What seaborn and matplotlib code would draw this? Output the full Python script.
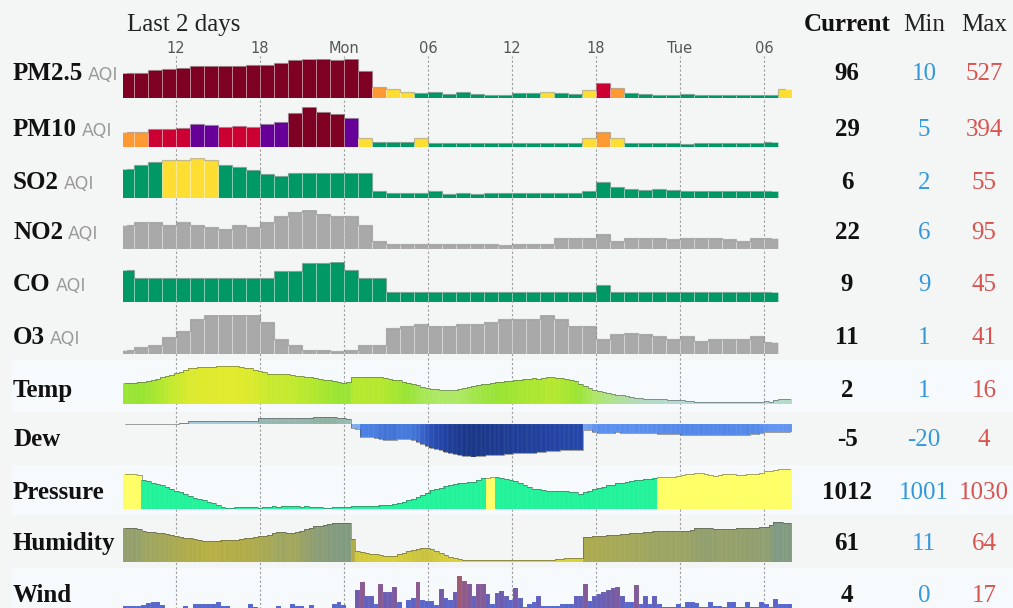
import numpy as np
import pandas as pd
import matplotlib
matplotlib.use("Agg")
import matplotlib.pyplot as plt
from matplotlib.colors import LinearSegmentedColormap, Normalize, to_hex
from matplotlib.patches import Rectangle
import seaborn as sns


# ==============================================================================
# DATA  (hourly AQI, 20-minute weather readings)
# ==============================================================================

tick_hours  = [12, 18, 24, 30, 36, 42, 48, 54]
tick_labels = ["12", "18", "Mon", "06", "12", "18", "Tue", "06"]

pm25 = [317, 327, 365, 384, 398, 422, 422, 422, 422, 441,
        441, 470, 503, 527, 517, 508, 517, 350, 126, 95,
        60, 40, 48, 26, 48, 26, 15, 15, 45, 45,
        55, 45, 20, 88, 175, 112, 45, 26, 15, 15,
        18, 12, 12, 10, 12, 12, 12, 96]
pm10 = [129, 129, 160, 168, 178, 215, 210, 189, 195, 189,
        212, 242, 331, 394, 341, 320, 285, 72, 22, 22,
        22, 65, 13, 13, 13, 12, 13, 13, 12, 13,
        12, 12, 13, 65, 128, 65, 19, 13, 13, 12,
        5, 12, 13, 12, 13, 12, 29]
so2 = [39, 45, 49, 52, 52, 55, 52, 45, 42, 37,
       32, 28, 33, 33, 33, 33, 33, 33, 6, 3,
       3, 3, 7, 2, 3, 2, 3, 3, 3, 4,
       3, 3, 4, 7, 20, 12, 9, 8, 9, 8,
       7, 6, 6, 6, 6, 6, 6]
no2 = [56, 64, 64, 56, 64, 56, 50, 45, 56, 50,
       64, 78, 89, 95, 85, 78, 78, 56, 16, 9,
       9, 9, 9, 9, 9, 9, 9, 6, 9, 9,
       9, 22, 22, 22, 33, 16, 22, 22, 22, 20,
       22, 22, 22, 20, 16, 22, 22]
co = [35, 26, 26, 26, 26, 26, 26, 26, 26, 26,
      26, 34, 34, 44, 44, 45, 35, 26, 26, 9,
      9, 9, 9, 9, 9, 9, 9, 9, 9, 9,
      9, 9, 9, 9, 18, 9, 9, 9, 9, 9,
      9, 9, 9, 9, 9, 9, 9]
o3 = [2, 5, 7, 16, 23, 36, 41, 41, 41, 41,
      33, 14, 7, 2, 2, 1, 2, 7, 7, 26,
      28, 31, 28, 28, 31, 31, 33, 36, 36, 36,
      41, 36, 28, 28, 14, 20, 21, 20, 17, 14,
      17, 12, 14, 14, 14, 17, 11]

temp = [8.8, 9.0, 9.0, 9.2, 9.4, 9.8, 10.2, 10.6, 11.2, 11.8,
        12.4, 13.0, 13.6, 14.2, 15.0, 15.2, 15.4, 15.5, 15.5, 15.6,
        15.8, 15.8, 16.0, 16.0, 15.8, 15.4, 15.2, 15.0, 14.5, 14.0,
        13.4, 12.8, 12.6, 12.8, 12.8, 12.6, 12.4, 12.0, 11.6, 11.5,
        11.2, 11.0, 10.6, 10.2, 10.0, 9.6, 9.2, 8.8, 9.4, 11.2,
        11.4, 11.4, 11.4, 11.4, 11.4, 11.2, 11.0, 10.6, 10.3, 10.0,
        9.4, 8.8, 8.3, 7.8, 7.2, 6.9, 6.5, 6.2, 6.0, 5.9,
        5.9, 6.0, 6.2, 6.6, 7.0, 7.6, 8.0, 8.4, 8.6, 8.8,
        9.2, 9.4, 9.6, 9.8, 10.0, 10.2, 10.4, 10.6, 10.8, 10.6,
        11.0, 11.2, 11.2, 11.0, 10.8, 10.4, 10.0, 9.6, 8.6, 7.6,
        6.8, 6.0, 5.5, 5.0, 4.6, 4.2, 3.9, 3.6, 3.2, 2.9,
        2.7, 2.5, 2.3, 2.2, 2.0, 2.0, 1.9, 1.8, 1.7, 1.6,
        1.5, 1.4, 1.2, 1.0, 1.0, 1.0, 1.0, 1.0, 1.0, 1.0,
        1.0, 1.0, 1.0, 1.0, 1.0, 1.0, 1.0, 1.0, 1.2, 1.0,
        1.6, 2.0, 2.0, 2.0]
dew = [0.2, 0.2, 0.2, 0.2, 0.2, 0.2, 0.2, 0.2, 0.2, 0.2,
       0.2, 0.2, 0.3, 0.3, 1.5, 1.8, 1.8, 1.8, 1.8, 1.8,
       1.8, 1.8, 1.8, 1.8, 1.8, 1.8, 1.8, 1.8, 1.8, 3.5,
       3.5, 3.5, 3.5, 3.5, 3.5, 3.5, 3.5, 3.5, 3.6, 3.6,
       3.8, 4.0, 4.0, 4.0, 4.0, 4.0, 3.5, 3.5, 3.2, -2.7,
       -3.0, -8.0, -8.0, -8.2, -8.5, -9.5, -10.0, -10.0, -10.0, -9.0,
       -9.0, -9.2, -10.0, -11.0, -12.5, -13.5, -14.5, -15.5, -16.0, -17.0,
       -18.0, -18.5, -19.0, -19.5, -19.8, -20.0, -19.8, -19.5, -19.2, -19.0,
       -19.0, -18.8, -18.5, -18.2, -18.0, -18.0, -17.8, -17.6, -17.5, -17.2,
       -17.0, -16.8, -16.5, -16.3, -16.2, -16.0, -16.0, -16.0, -16.0, -3.7,
       -4.0, -4.8, -5.3, -5.3, -5.4, -5.3, -5.2, -5.5, -5.4, -5.3,
       -5.6, -5.5, -5.4, -5.7, -5.8, -6.0, -6.2, -6.0, -6.2, -6.4,
       -6.5, -6.7, -6.6, -6.5, -6.7, -6.8, -6.6, -6.5, -6.7, -6.8,
       -6.7, -6.6, -6.5, -6.5, -6.6, -6.4, -6.0, -5.5, -5.0, -4.8,
       -4.7, -4.7, -4.8, -4.8]
pressure = [1026.0, 1025.7, 1025.5, 1025.0, 1021.0, 1020.5, 1019.5, 1018.5, 1017.5, 1016.5,
            1015.0, 1013.5, 1012.5, 1011.0, 1009.5, 1008.5, 1007.5, 1006.5, 1005.5, 1004.5,
            1003.5, 1002.0, 1001.3, 1001.3, 1001.5, 1001.7, 1001.5, 1001.8, 1002.0, 1001.0,
            1001.7, 1002.0, 1002.2, 1002.0, 1002.4, 1002.2, 1002.5, 1002.3, 1002.0, 1002.2,
            1001.8, 1002.0, 1001.5, 1001.2, 1001.0, 1001.5, 1001.8, 1002.0, 1002.0, 1002.2,
            1002.5, 1002.3, 1002.5, 1002.8, 1002.6, 1003.0, 1003.2, 1003.5, 1004.0, 1004.6,
            1005.5, 1006.5, 1007.5, 1009.0, 1010.5, 1012.0, 1014.0, 1015.0, 1015.5, 1017.0,
            1018.0, 1018.5, 1019.0, 1019.5, 1019.8, 1020.0, 1021.0, 1022.5, 1023.0, 1023.5,
            1023.2, 1022.5, 1022.0, 1021.5, 1020.5, 1019.0, 1017.5, 1016.0, 1015.0, 1014.5,
            1014.0, 1013.5, 1013.3, 1013.3, 1013.0, 1013.0, 1012.8, 1012.5, 1011.2, 1012.5,
            1013.5, 1014.5, 1015.5, 1016.5, 1017.5, 1018.0, 1019.0, 1019.5, 1020.0, 1020.5,
            1021.0, 1021.5, 1022.0, 1022.3, 1022.8, 1023.2, 1023.5, 1023.5, 1023.8, 1024.5,
            1025.0, 1025.5, 1026.0, 1026.4, 1026.4, 1025.5, 1025.0, 1024.5, 1025.0, 1025.5,
            1025.8, 1025.5, 1025.0, 1025.0, 1025.5, 1026.0, 1026.0, 1026.5, 1027.5, 1028.0,
            1028.5, 1029.3, 1029.3, 1029.3]
# pressure band flag as runs of (flag, bar count)
pressure_runs = [("hi", 4), ("lo", 74), ("hi", 2), ("lo", 35), ("hi", 29)]
humidity = [56, 55, 55, 54, 51, 50, 49.5, 49, 48, 47,
            45.5, 44, 43, 42, 41, 40, 39, 38, 37.5, 37.5,
            38, 38.5, 38.5, 39, 39.5, 40, 41, 42, 43, 44,
            45, 46, 48, 50, 50.5, 49, 48.5, 50, 52, 54,
            56, 58, 59, 60, 61, 62, 62.5, 63, 62, 40,
            24, 22, 20, 19.5, 19, 18.5, 17, 16, 17, 19,
            21, 23.5, 25.5, 26.5, 27.5, 27.5, 26, 23.5, 20.5, 18,
            15, 13, 12, 11, 11, 11.5, 11, 11, 11, 11,
            11.5, 11, 11, 11, 11, 11, 11, 11, 11, 11,
            11, 11, 11.5, 12, 12.5, 13, 13.5, 14, 14, 43,
            43.5, 44, 44.5, 45, 45.5, 46, 46.5, 47, 47.5, 48,
            48.5, 49, 50, 50.5, 51, 51, 51, 51, 51, 51,
            51.5, 52, 53.5, 55, 55.5, 55.5, 55.5, 54.5, 54, 54,
            54, 54.5, 55, 55, 55.5, 56, 56, 56.5, 57, 60,
            64, 63.5, 62.5, 62.5]
wind = [3, 3, 3, 3, 3.5, 4.7, 5.1, 5.1, 3.6, 2.4,
        2.4, 2.4, 2.4, 3.3, 2.4, 4.1, 4.1, 4.1, 4.1, 4.1,
        4.8, 3.3, 3.3, 2.4, 2.4, 2.4, 2.4, 4, 2.9, 2.4,
        2.4, 2.4, 2.4, 3.3, 2.4, 2.4, 4, 3.2, 3.2, 2.4,
        3.6, 2.4, 2.4, 2.4, 2.4, 4, 5.1, 3.6, 2.4, 2.4,
        10.5, 13.9, 7.9, 7.6, 4, 13.3, 9.7, 9.7, 12, 4.8,
        2.4, 5.9, 6.9, 13.9, 5.9, 5.5, 5.5, 3.6, 10.9, 6.7,
        5.9, 9.7, 17, 14.5, 13, 7.9, 13, 13, 8.5, 4,
        8.9, 10, 7.6, 5.9, 11.2, 6.9, 2.9, 4, 4.8, 7.9,
        3, 3, 3, 3.3, 4, 4, 4, 7.6, 7.9, 13,
        5.5, 7.9, 8.5, 9.4, 10.5, 11.2, 12, 7.9, 5.1, 5.1,
        12.7, 4, 7.9, 4, 7.9, 4, 2.7, 2.7, 2.7, 4,
        2.9, 4.8, 5.1, 4.4, 2.9, 2.9, 5.1, 3.3, 3.3, 2.9,
        5.1, 5.1, 2.9, 2.9, 4.8, 2.9, 2.9, 4.8, 4, 2.9,
        6.4, 4, 4, 4]

row_names  = ["PM2.5", "PM10", "SO2", "NO2", "CO", "O3",
              "Temp", "Dew", "Pressure", "Humidity", "Wind"]
row_units  = ["AQI", "AQI", "AQI", "AQI", "AQI", "AQI", "", "", "", "", ""]
current_vals = ["96", "29", "6", "22", "9", "11", "2", "-5", "1012", "61", "4"]
min_vals     = ["10", "5", "2", "6", "9", "1", "1", "-20", "1001", "11", "0"]
max_vals     = ["527", "394", "55", "95", "45", "41", "16", "4", "1030", "64", "17"]


# ==============================================================================
# STYLE / LAYOUT
# ==============================================================================

sns.set_theme(style="white")
plt.rcParams["font.family"] = ["Liberation Serif", "DejaVu Serif"]

W, H = 1013, 608
BG, BAND = "#f4f6f6", "#f6fafd"
X0, X1 = 8.2, 56.0            # hours since Sunday 00:00
PLOT_L, PLOT_R = 123, 792     # pixel extent of the sparkline column

AQI_LEVELS = [(50, "#009966"), (100, "#ffde33"), (150, "#ff9933"),
              (200, "#cc0033"), (300, "#660099"), (1e9, "#7e0023")]
GREY_BAR = "#a9a9a9"

cm_temp = LinearSegmentedColormap.from_list(
    "temp", [(0.0, "#b4d8e4"), (0.13, "#b2dcb0"), (0.33, "#aee866"),
             (0.55, "#98e432"), (0.75, "#c2ea2e"), (1.0, "#e4ea2c")])
cm_dew = LinearSegmentedColormap.from_list(
    "dew", [(0.0, "#1a3788"), (0.17, "#2446a8"), (0.33, "#3a66cc"),
            (0.5, "#4b80e2"), (0.62, "#5b90ef"), (0.71, "#7eaaf0"),
            (0.83, "#9cc4ec"), (0.92, "#a6c8d8"), (1.0, "#8fb2a2")])
cm_hum = LinearSegmentedColormap.from_list(
    "hum", [(0.0, "#dcd43a"), (0.26, "#cfc83c"), (0.53, "#b3ad46"),
            (0.7, "#a3a85a"), (0.83, "#93a06c"), (1.0, "#7f9a84")])
cm_wind = LinearSegmentedColormap.from_list(
    "wind", [(0.0, "#4d6ad8"), (0.35, "#5a66c8"), (0.6, "#6f5cae"),
             (0.82, "#8a5a90"), (1.0, "#a05a70")])
PRESSURE_COLORS = {"hi": "#ffff66", "lo": "#22f29a"}


def aqi_color(v):
    for lim, col in AQI_LEVELS:
        if v <= lim:
            return col


def map_colors(vals, cmap, lo, hi):
    norm = Normalize(lo, hi)
    return [to_hex(cmap(norm(v))) for v in vals]


fig = plt.figure(figsize=(W / 100, H / 100), dpi=100, facecolor=BG)


def px_axes(y_top, y_bot, x0=PLOT_L, x1=PLOT_R, z=1):
    ax = fig.add_axes([x0 / W, 1 - y_bot / H, (x1 - x0) / W, (y_bot - y_top) / H],
                      zorder=z)
    ax.patch.set_alpha(0)
    ax.set_axis_off()
    return ax


def draw_row(ax, xs, vals, colors, ylim, floor=0.0, bar_w=1.0, sep_lw=0.8,
             sep_alpha=0.35, cap_color="black", cap_alpha=0.3, cap_lw=0.9):
    vals = np.asarray(vals, dtype=float)
    df = pd.DataFrame({"t": xs, "h": vals + floor, "c": colors})
    sns.barplot(data=df, x="t", y="h", hue="c",
                palette={c: c for c in set(colors)}, native_scale=True,
                dodge=False, width=bar_w, errorbar=None, legend=False,
                saturation=1, linewidth=sep_lw,
                edgecolor=(1, 1, 1, sep_alpha), bottom=-floor, ax=ax)
    if cap_color is not None:
        sns.lineplot(x=xs, y=vals, drawstyle="steps-mid", color=cap_color,
                     alpha=cap_alpha, lw=cap_lw, errorbar=None, ax=ax)
    ax.set_xlim(X0, X1)
    ax.set_ylim(*ylim)
    ax.set_axis_off()


# ── Background bands & grid ──────────────────────────────────────────────────
bg = fig.add_axes([0, 0, 1, 1], zorder=-2)
bg.set_xlim(0, W)
bg.set_ylim(H, 0)
bg.set_axis_off()
bg.patch.set_alpha(0)
for y_top, y_bot in [(360, 412), (465, 515), (568, 620)]:
    bg.add_patch(Rectangle((12, y_top), W, y_bot - y_top, color=BAND, lw=0))

grid = px_axes(56, 620, z=0)
grid.set_xlim(X0, X1)
grid.set_ylim(0, 1)
for h, lbl in zip(tick_hours, tick_labels):
    grid.axvline(h, color="#9c9c9c", lw=0.8, ls=(0, (2, 2)))
    grid.annotate(lbl, xy=(h, 1), xycoords=("data", "axes fraction"),
                  xytext=(0, 3), textcoords="offset pixels", ha="center",
                  va="baseline", fontsize=10.5, color="#555555",
                  family="DejaVu Sans")

# ── AQI rows (hourly bars) ───────────────────────────────────────────────────
aqi_rows = [
    (pm25, "aqi", 98.0),
    (pm10, "aqi", 146.7),
    (so2, "aqi", 197.7),
    (no2, "grey", 249.3),
    (co, "aqi", 301.7),
    (o3, "grey", 354.0),
]
for vals, scheme, base in aqi_rows:
    ax = px_axes(base - 39.5, base)
    xs = X0 + 0.3 + np.arange(len(vals))
    cols = [aqi_color(v) if scheme == "aqi" else GREY_BAR for v in vals]
    vmax = max(vals)
    draw_row(ax, xs, vals, cols, (-0.06 * vmax, vmax), floor=0.06 * vmax,
             sep_lw=0.7, sep_alpha=0.3, cap_alpha=0.22)

# ── Weather rows (20-minute bars) ────────────────────────────────────────────
step = (X1 - X0) / len(temp)
wx = X0 + (np.arange(len(temp)) + 0.5) * step

pressure_cols = []
for flag, n in pressure_runs:
    pressure_cols += [PRESSURE_COLORS[flag]] * n

weather_rows = [
    (temp, map_colors(temp, cm_temp, 1, 16), 366, 404, (0, 16)),
    (dew, map_colors(dew, cm_dew, -20, 4), 417.3, 456.7, (-20, 4)),
    (pressure, pressure_cols, 469, 509, (1000.3, 1029.3)),
    (humidity, map_colors(humidity, cm_hum, 11, 64), 522, 562, (8, 64)),
    (wind, map_colors(wind, cm_wind, 0, 17), 575.6, 613, (0, 17)),
]
for i, (vals, cols, y_top, y_bot, lim) in enumerate(weather_rows):
    ax = px_axes(y_top, y_bot)
    is_wind = i == len(weather_rows) - 1
    draw_row(ax, wx, vals, cols, lim, bar_w=1.06, sep_lw=0.25, sep_alpha=0.15,
             cap_color=None if is_wind else "#444444", cap_alpha=0.5, cap_lw=0.7)

# ── Text: header, labels, current / min / max ────────────────────────────────
tx = fig.add_axes([0, 0, 1, 1], zorder=5)
tx.set_xlim(0, W)
tx.set_ylim(H, 0)
tx.set_axis_off()
tx.patch.set_alpha(0)

tx.text(127, 31, "Last 2 days", fontsize=18, color="#222222", va="baseline")
tx.text(847, 31, "Current", fontsize=18, fontweight="bold", color="#111111",
        ha="center", va="baseline")
tx.text(924, 31, "Min", fontsize=18, color="#222222", ha="center", va="baseline")
tx.text(984, 31, "Max", fontsize=18, color="#222222", ha="center", va="baseline")

baselines = [80, 136, 189, 239, 291, 344, 397, 446, 499, 550, 602]
for name, unit, cur, lo, hi, yb in zip(row_names, row_units, current_vals,
                                       min_vals, max_vals, baselines):
    lab = tx.text(13, yb, name, fontsize=18, fontweight="bold", color="#111111",
                  va="baseline")
    if unit:
        tx.annotate(unit, xy=(1, yb), xycoords=(lab, "data"), xytext=(5, 0),
                    textcoords="offset pixels", va="baseline", fontsize=12.5,
                    color="#9a9a9a", family="DejaVu Sans")
    tx.text(847, yb, cur, fontsize=18, fontweight="bold", color="#111111",
            ha="center", va="baseline")
    tx.text(924, yb, lo, fontsize=18, color="#3498db", ha="center", va="baseline")
    tx.text(984, yb, hi, fontsize=18, color="#d9534f", ha="center", va="baseline")

fig.savefig("out.png", dpi=100, facecolor=BG)
